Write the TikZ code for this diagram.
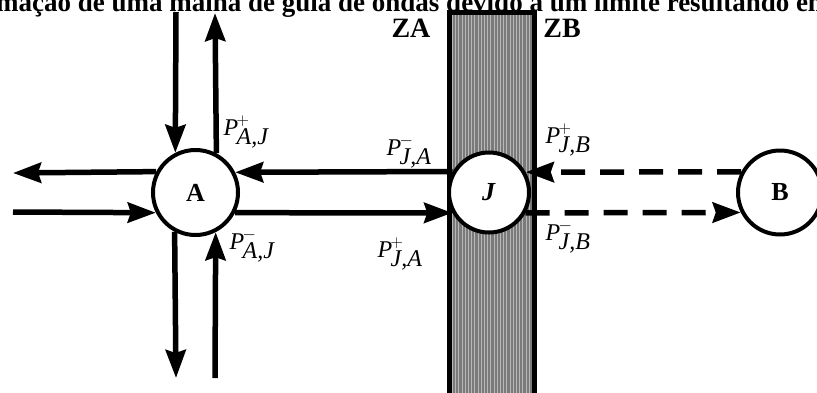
\documentclass[tikz,border=0pt]{standalone}
\usepackage{fontspec}
\setmainfont{Liberation Serif}
\usetikzlibrary{arrows.meta}
\newcommand{\plab}[2]{\textit{P}\kern-1.5pt$^{#1}_{\textit{#2}}$}
\tikzset{
  junc/.style={draw, circle, line width=4bp, fill=white, inner sep=0pt, font=\fontsize{26bp}{28bp}\selectfont\bfseries},
  wire/.style={line width=5.5bp, -{Stealth[length=28bp,width=20bp,inset=3bp]}},
  dwire/.style={wire, dash pattern=on 24bp off 15bp},
  plabel/.style={font=\fontsize{24bp}{26bp}\selectfont, inner sep=0pt},
  zlabel/.style={font=\fontsize{28bp}{30bp}\selectfont\bfseries, inner sep=0pt}
}
\begin{document}
\begin{tikzpicture}[x=1bp,y=-1bp]
\clip (0,0) rectangle (817,392);
\fill[white] (0,0) rectangle (817,392);
% title (cut off at the edges)
\node[anchor=base west, inner sep=0pt, font=\fontsize{27bp}{29bp}\selectfont\bfseries] (title) at (-4,11) {mação de uma malha de guia de ondas devido a um limite resultando em};
% boundary band
\fill[black!52] (449.5,12.5) rectangle (534.5,400);
\foreach \i in {0,...,25} {
  \draw[white!72!black, line width=0.9bp] (452.5+3.2*\i,14) -- (452.5+3.2*\i,400);
}
\draw[line width=5bp] (449.5,400) -- (449.5,12.5) -- (534.5,12.5) -- (534.5,400);
% zone labels
\node[zlabel] (za) at (411,28) {ZA};
\node[zlabel] (zb) at (562,28) {ZB};
% junction nodes
\node[junc, minimum size=85bp] (A) at (195.5,192.5) {A};
\node[junc, minimum size=80bp] (J) at (489,192.5) {\textit{J}};
\node[junc, minimum size=84bp] (B) at (780,192.5) {B};
% free ends
\coordinate (lo) at (13,173);
\coordinate (li) at (13,212);
\coordinate (ti) at (176,12);
\coordinate (to) at (215,13);
\coordinate (bo) at (176,378);
\coordinate (bi) at (215,378);
% connectors around A
\draw[wire] (A.152.7) -- (lo);
\draw[wire] (li) -- (A.207.3);
\draw[wire] (ti) -- (A.117.3);
\draw[wire] (A.62.7) -- (to);
\draw[wire] (A.242.7) -- (bo);
\draw[wire] (bi) -- (A.297.3);
% A <-> J
\draw[wire] (J.150.8) -- (A.27.3);
\draw[wire] (A.-27.3) -- (J.209.2);
% J <-> B dashed
\draw[dwire] (B.152.3) -- (J.29.2);
\draw[dwire] (J.-29.2) -- (B.207.7);
% labels
\node[plabel] (pAJp) at (246,132) {\plab{+}{A,J}};
\node[plabel] (pAJm) at (252,246) {\plab{-}{A,J}};
\node[plabel] (pJAm) at (409,152) {\plab{-}{J,A}};
\node[plabel] (pJAp) at (400,254) {\plab{+}{J,A}};
\node[plabel] (pJBp) at (568,140) {\plab{+}{J,B}};
\node[plabel] (pJBm) at (568,237) {\plab{-}{J,B}};
\end{tikzpicture}
\end{document}
